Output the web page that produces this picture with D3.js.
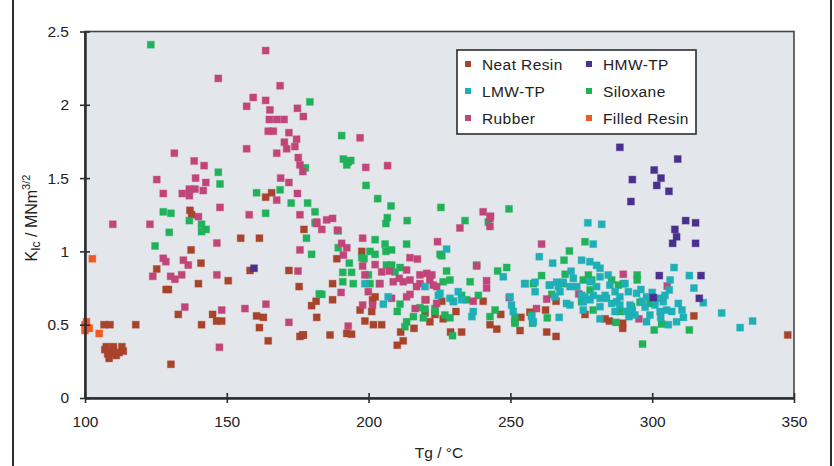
<!DOCTYPE html>
<html>
<head>
<meta charset="utf-8">
<script src="https://cdn.jsdelivr.net/npm/d3@7"></script>
<style>
	html, body { margin: 0; padding: 0; background: #fff; }
	svg { display: block; font-family: "Liberation Sans", Arial, sans-serif; }
</style>
</head>
<body>
<div id="chart"></div>
<script>
/* values: [Tg in °C, KIc in MNm^3/2] */
const neatResin = [
	[106.7,0.50],[108.8,0.50],[117.9,0.50],
	[107,0.33],[108,0.30],[108.5,0.27],[109,0.31],[110,0.33],[111,0.29],[112,0.31],[113,0.35],[113.5,0.32],[107.5,0.35],[110,0.35],
	[130.3,0.23],[132.9,0.57],[141.1,0.50],[145,0.57],[146.4,0.525],[148.2,0.525],
	[160.5,0.56],[162.9,0.55],[161.5,0.48],[164.6,0.39],[175.8,0.42],[176.8,0.43],
	[179.9,0.63],[181.5,0.66],[181.7,0.55],
	[125.3,0.88],[128.6,0.74],[129.4,0.74],[137.4,1.01],[140.9,0.92],[140,0.78],[150.5,0.80],
	[154.9,1.09],[161.5,1.09],[158.2,0.87],[171.9,0.87],[175.5,0.76],[177.2,1.15],
	[137,1.28],[137.6,1.25],[163.7,1.37],[165.8,1.40],
	[197.6,1.0],[188.8,0.95],[187.3,0.78],[187.3,0.67],[186.4,0.43],[177,0.43],
	[192.3,0.44],[194,0.435],[197,0.60],[201.1,0.59],
	[198.7,0.525],[201.7,0.50],[204.6,0.50],[201.4,0.67],[202.3,0.69],
	[211.3,0.45],[212.2,0.39],[210.1,0.36],[216,0.475],
	[219.9,0.58],[221.6,0.52],[223.4,0.57],[226.3,0.54],[225.8,0.66],[220.2,0.67],
	[230.8,0.59],[228.9,0.45],[232.8,0.45],[240.4,0.66],
	[242.8,0.50],[245.2,0.47],[246.6,0.57],[253.7,0.55],[253.4,0.46],[256.9,0.585],[251.6,0.52],
	[262.4,0.60],[262.8,0.45],[266.1,0.66],[266.1,0.42],
	[276.3,0.57],[283.4,0.54],[284.9,0.525],[289.6,0.51],[289.6,0.475],[314.7,0.56],[347.8,0.43]
];

const siloxane = [
	[123.2,2.41],[179.3,2.02],[147,1.54],[147.6,1.46],[160.5,1.40],[168.8,1.42],[172.7,1.33],[178.5,1.33],[181.1,1.27],[177.7,1.57],[127.6,1.27],[130.3,1.26],[163.7,1.26],
	[136.8,1.21],[141.1,1.185],[142.7,1.15],[141.1,1.135],[129.7,1.13],[124.7,1.037],
	[178.1,1.09],[179.9,0.98],[181.1,1.195],[182.6,0.71],
	[190.5,1.79],[191.1,1.63],[192.8,1.61],[193.7,1.62],[192.3,1.59],[199.1,1.45],[203.2,1.36],[207.9,1.31],[225.5,1.30],[249.5,1.29],
	[206.6,1.23],[213.6,1.21],[234,1.21],[206.1,1.19],[242.2,1.20],
	[189.3,1.14],[202.3,1.08],[205.8,1.05],[206.1,1.0],[208.1,1.01],[213.4,1.05],[225.2,0.98],[225.8,0.97],
	[189.3,1.025],[193.2,0.92],[200.5,1.0],[202.3,0.98],[197.6,0.957],[198.4,0.95],
	[190.9,0.857],[194,0.857],[190.9,0.793],[194.6,0.78],[199.9,0.84],[200.5,0.78],[203.8,0.78],[183.5,0.707],
	[206.3,0.907],[208.1,0.907],[209.3,0.86],[211.1,0.89],
	[227.5,0.866],[228.7,0.805],[226.3,0.793],[235.8,0.793],[238.1,0.907],[245.5,0.866],[248.7,0.89],
	[255.1,0.78],[258.1,0.78],[261,0.835],
	[211.1,0.64],[210.1,0.59],[213.4,0.52],[212.8,0.486],[215.8,0.555],[219.3,0.547],[223.4,0.59],[226.9,0.566],[228.7,0.547],
	[218.1,0.616],[219.9,0.607],[223.4,0.61],
	[229.9,0.66],[232.8,0.70],[234.6,0.67],[238.7,0.70],[242.8,0.555],[244.6,0.60],[229.6,0.425],
	[251.6,0.51],[251.6,0.55],[257.5,0.566],[257.8,0.51],[263,0.547],
	[276.3,1.066],[270.8,1.003],[268.9,0.94],[269.3,0.844],[268.6,0.78],[264.6,0.707],
	[277.5,0.839],[275.7,0.805],[278.7,0.805],[285.7,0.805],[288.1,0.77],[289.8,0.78],[294.7,0.839],[294.7,0.805],[278.1,0.737],
	[275.1,0.657],[279.2,0.60],[288.6,0.59],[292.7,0.623],[295.7,0.653],[299.2,0.645],[300.2,0.668],
	[287.2,0.516],[303.3,0.505],[300.7,0.464],[313.1,0.464],[296.6,0.368]
];

const rubber = [
	[163.7,2.37],[147,2.18],[168.8,2.13],[159.3,2.05],[157,1.99],[163.7,2.03],[165.2,1.965],[165,1.90],[167.6,1.90],[170.2,1.90],[174.9,1.976],[177,1.92],
	[164.6,1.82],[166.4,1.82],[171.9,1.81],[170.3,1.745],[174.6,1.765],[171.1,1.70],[174,1.715],[157,1.70],[167.6,1.67],[175.2,1.64],[175.8,1.59],[176.8,1.545],
	[131.5,1.67],[138.5,1.617],[142,1.585],[139,1.50],[142.6,1.47],[141.7,1.415],[125.3,1.49],
	[127.6,1.395],[134.3,1.395],[136.8,1.425],[138.8,1.425],[136.8,1.38],[169,1.50],[171.9,1.47],[174.9,1.395],[167.6,1.35],[147.6,1.30],[157.9,1.25],[175.8,1.25],[140,1.237],
	[109.8,1.185],[122.9,1.185],[146.5,1.057],[127.6,0.953],[128.5,0.93],[123.9,0.83],[134.7,0.94],[136.4,0.907],[130.2,0.83],[131.7,0.81],[134.1,0.84],[146.5,0.84],
	[135.2,0.62],[148.2,0.60],[156.4,0.61],[163.8,0.64],[147.4,0.346],[171.9,0.516],[175.8,1.01],[175.1,0.866],[181.7,1.19],
	[197,1.775],[199,1.573],[206.7,1.585],[240.4,1.27],[243,1.24],
	[181.7,1.20],[185.2,1.215],[187.3,1.225],[183.5,1.15],[189,1.145],[197.9,1.09],[232.2,1.16],[242.8,1.17],[242.8,1.225],[224.3,1.066],
	[190.5,1.055],[192.3,1.025],[191.1,0.975],
	[197.9,0.90],[202.3,0.91],[198.7,0.84],[204.6,0.86],[207.3,0.866],[204,0.78],[208.7,0.793],[213.4,0.873],[214.6,0.957],[217.2,0.948],
	[210.8,0.816],[212.2,0.793],[214.6,0.805],[218.1,0.84],[220.5,0.85],[222.3,0.84],[218.1,0.78],[221.6,0.805],[222.8,0.77],[216.9,0.76],[224,0.76],
	[199.9,0.725],[208.1,0.68],[214.6,0.707],[213.4,0.69],[219.9,0.67],[224,0.645],[201.4,0.634],[197.9,0.634],[216.4,0.61],[190.3,0.72],[192.8,0.49],
	[238.1,0.90],[241.6,0.80],[241.6,0.75],[236.9,0.66],[249.6,0.685],[259.2,0.61],[262.8,0.675],[261,1.05],
	[289.8,0.844],[305.3,0.764],[274.1,0.71],[295.3,0.54]
];

const lmwTP = [
	[277.3,1.195],[282.2,1.185],[279.2,1.05],[264.9,0.92],[275.1,0.94],[278,0.93],[280.4,0.905],[281.6,0.885],[271.4,0.865],
	[307.7,0.89],[313.1,0.835],[306.3,0.805],[306,0.737],[314.7,0.75],[318,0.65],[324.5,0.58],[331,0.48],[335.4,0.525],
	[309.2,0.645],[311,0.55],[308.6,0.52],[305.7,0.50],[303.9,0.657],[305.1,0.60],[306.9,0.59],[302.8,0.59],[299.2,0.566],[298,0.69],[301,0.634],[302.2,0.68],
	[291.8,0.555],[293.9,0.566],[281.6,0.54],[267.2,0.55],[269.8,0.645],[271,0.634],[275.7,0.60],[275.7,0.657],[275.1,0.70],
	[264,0.77],[266.3,0.79],[268.6,0.79],[271,0.76],[267.5,0.725],[265.7,0.69],
	[272.2,0.816],[273.4,0.76],[278.1,0.793],[280.4,0.76],[281.6,0.827],[284.5,0.839],[285.1,0.77],[283.4,0.70],[286.9,0.725],[288.6,0.69],[290.4,0.78],[291.6,0.725],[294.5,0.714],
	[287.5,0.657],[285.7,0.645],[283.9,0.68],[281.6,0.68],[279.2,0.70],[281.6,0.623],[286.9,0.59],[288.6,0.634],[291,0.59],[292.2,0.634],[278.1,0.67],[276.3,0.69],
	[296,0.74],[297.5,0.62],[300,0.72],[304.5,0.70],[296.5,0.66],[293,0.60],[298,0.52],[310.5,0.60],[303,0.55],
	[227.5,1.016],[260.2,0.964],[247.5,0.827],[255.1,0.78],[258.7,0.79],[258.7,0.725],[263.7,0.77],[266.9,0.76],
	[224.6,0.70],[228.7,0.68],[231.6,0.725],[232.8,0.67],[229.9,0.657],[236.9,0.59],[236.4,0.555],[249.9,0.69],[250.4,0.634],[251,0.59],[257.5,0.555],[258.1,0.52],
	[198.7,0.78],[206.9,0.69],[205.2,0.64],[219.9,0.76],[225.2,0.714]
];

const hmwTP = [
	[288.6,1.71],[309,1.63],[300.7,1.555],[293,1.49],[303.1,1.50],[301.6,1.45],[305.9,1.41],[292.5,1.34],
	[311.8,1.21],[315.3,1.195],[308,1.15],[308.6,1.10],[307.2,1.055],[315.3,1.055],
	[302.5,0.835],[317.2,0.835],[316.6,0.68],[300.4,0.685],[159.6,0.885]
];

const filledResin = [[100,0.50],[101.5,0.475],[100,0.46],[105,0.44],[100.5,0.52],[101,0.48],[102.6,0.95]];

const xTicks = [100, 150, 200, 250, 300, 350];
const yTicks = [0, 0.5, 1, 1.5, 2, 2.5];

/* legend order is row by row, two columns */
const series = [
	{ name: "Neat Resin", color: "#a8432c", data: neatResin },
	{ name: "HMW-TP", color: "#4a2f8c", data: hmwTP },
	{ name: "LMW-TP", color: "#1eb0b6", data: lmwTP },
	{ name: "Siloxane", color: "#20b25a", data: siloxane },
	{ name: "Rubber", color: "#c2457a", data: rubber },
	{ name: "Filled Resin", color: "#f25a24", data: filledResin }
];
/* which series sit on top of which */
const drawOrder = ["Neat Resin", "Siloxane", "Rubber", "LMW-TP", "HMW-TP", "Filled Resin"];

const W = 834, H = 466;
const plot = { left: 85, right: 794, top: 31.5, bottom: 398 };
const axisColor = "#2b2d31";

const svg = d3.select("#chart").append("svg")
	.attr("width", W)
	.attr("height", H);

/* outer frame edges */
svg.append("line").attr("x1", 13).attr("x2", 13).attr("y1", 0).attr("y2", H)
	.attr("stroke", axisColor).attr("stroke-width", 2);
svg.append("line").attr("x1", 831).attr("x2", 831).attr("y1", 0).attr("y2", H)
	.attr("stroke", axisColor).attr("stroke-width", 2);

const x = d3.scaleLinear().domain([100, 350]).range([plot.left, plot.right]);
const y = d3.scaleLinear().domain([0, 2.5]).range([plot.bottom, plot.top]);

/* plot area */
svg.append("rect")
	.attr("x", plot.left).attr("y", plot.top)
	.attr("width", plot.right - plot.left).attr("height", plot.bottom - plot.top)
	.attr("fill", "#e3e6ea")
	.attr("stroke", "#44464b")
	.attr("stroke-width", 1.6);

/* points */
const size = 7;
const pts = svg.append("g");
drawOrder.forEach(name => {
	const s = series.find(d => d.name === name);
	pts.selectAll(null)
		.data(s.data)
		.enter()
		.append("rect")
			.attr("x", d => x(d[0]) - size / 2)
			.attr("y", d => y(d[1]) - size / 2)
			.attr("width", size)
			.attr("height", size)
			.attr("fill", s.color)
			.attr("stroke", s.color)
			.attr("stroke-opacity", 0.35)
			.attr("stroke-width", 1);
});

/* axes */
const xAxis = svg.append("g")
	.attr("transform", `translate(0,${plot.bottom})`)
	.call(d3.axisBottom(x).tickValues(xTicks).tickSize(5).tickSizeOuter(0).tickFormat(d3.format("d")));
const yAxis = svg.append("g")
	.attr("transform", `translate(${plot.left},0)`)
	.call(d3.axisLeft(y).tickValues(yTicks).tickSize(5).tickSizeOuter(0).tickFormat(d => d));

[xAxis, yAxis].forEach(a => {
	a.select(".domain").attr("stroke", axisColor).attr("stroke-width", 2.5);
	a.selectAll(".tick line").attr("stroke", axisColor).attr("stroke-width", 1.6);
	a.selectAll(".tick text")
		.attr("fill", "#222")
		.style("font-family", "'Liberation Sans', Arial, sans-serif")
		.style("font-size", "15.5px");
});
/* ticks cross the axis line */
xAxis.selectAll(".tick line").attr("y1", -5).attr("y2", 5);
xAxis.selectAll(".tick text").attr("y", 18);
yAxis.selectAll(".tick line").attr("x1", -5).attr("x2", 5);
yAxis.selectAll(".tick text").attr("x", -16);

/* axis titles */
svg.append("text")
	.attr("x", 439).attr("y", 458)
	.attr("text-anchor", "middle")
	.attr("fill", "#222")
	.style("font-size", "15.5px")
	.text("Tg / °C");

const yTitle = svg.append("text")
	.attr("transform", "translate(37,218) rotate(-90)")
	.attr("text-anchor", "middle")
	.attr("fill", "#222")
	.style("font-size", "16px");
yTitle.append("tspan").text("K");
yTitle.append("tspan").attr("dy", 3).style("font-size", "12px").text("Ic");
yTitle.append("tspan").attr("dy", -3).text(" / MNm");
yTitle.append("tspan").attr("dy", -7).style("font-size", "11px").text("3/2");

/* legend */
const legend = svg.append("g");
legend.append("rect")
	.attr("x", 457).attr("y", 50)
	.attr("width", 239).attr("height", 84)
	.attr("fill", "#fff")
	.attr("stroke", "#2b2d31")
	.attr("stroke-width", 1.6);

const colX = [468, 589];
const rowY = [64, 91, 118];
series.forEach((s, i) => {
	const cx = colX[i % 2], cy = rowY[Math.floor(i / 2)];
	legend.append("rect")
		.attr("x", cx - 3).attr("y", cy - 3)
		.attr("width", 6).attr("height", 6)
		.attr("fill", s.color);
	legend.append("text")
		.attr("x", cx + 14).attr("y", cy + 5.5)
		.attr("fill", "#222")
		.style("font-size", "15.5px")
		.style("letter-spacing", "0.4px")
		.text(s.name);
});
</script>
</body>
</html>
